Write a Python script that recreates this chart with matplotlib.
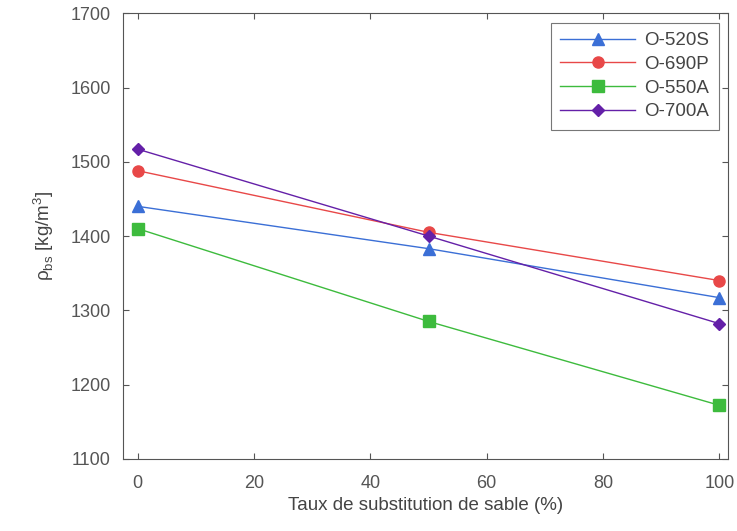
import matplotlib.pyplot as plt

plt.rcParams['font.family'] = ['Liberation Sans', 'DejaVu Sans']
plt.rcParams['mathtext.fontset'] = 'custom'
plt.rcParams['mathtext.rm'] = 'Liberation Sans'

taux = [0, 50, 100]
o520s = [1440, 1383, 1317]
o690p = [1488, 1405, 1340]
o550a = [1410, 1285, 1172]
o700a = [1517, 1400, 1282]

series = [
    (o520s, 'O-520S', '#3b6fd6', '^'),
    (o690p, 'O-690P', '#e84848', 'o'),
    (o550a, 'O-550A', '#3dbb3d', 's'),
    (o700a, 'O-700A', '#6420a8', 'D'),
]

fig = plt.figure(figsize=(7.37, 5.31), dpi=100)
ax = fig.add_axes([0.167, 0.136, 0.821, 0.839])

for vals, name, col, mk in series:
    ax.plot(taux, vals, color=col, marker=mk, markersize=8 if mk != 'D' else 6.5,
            linewidth=1.0, label=name)

ax.set_xlim(-2.5, 101.5)
ax.set_ylim(1100, 1700)
ax.set_xticks([0, 20, 40, 60, 80, 100])
ax.set_yticks(range(1100, 1701, 100))
ax.tick_params(direction='in', top=True, right=True, labelsize=13,
               colors='#555555', length=4)
ax.tick_params(axis='y', pad=9)
ax.tick_params(axis='x', pad=12)
for s in ax.spines.values():
    s.set_color('#555555')
ax.set_xlabel('Taux de substitution de sable (%)', fontsize=13.5, color='#444444', labelpad=3)
ax.set_ylabel(r'ρ$_{\mathrm{bs}}$ [kg/m$^{\mathrm{3}}$]', fontsize=13.5, color='#444444', labelpad=10)

leg = ax.legend(loc='upper right', fontsize=13.5, frameon=True, fancybox=False,
                borderpad=0.5, handlelength=4.0, labelspacing=0.35,
                borderaxespad=0.5, handletextpad=0.5)
leg.get_frame().set_edgecolor('#555555')
leg.get_frame().set_linewidth(0.8)
for t in leg.get_texts():
    t.set_color('#444444')

fig.savefig('out.png', dpi=100)
